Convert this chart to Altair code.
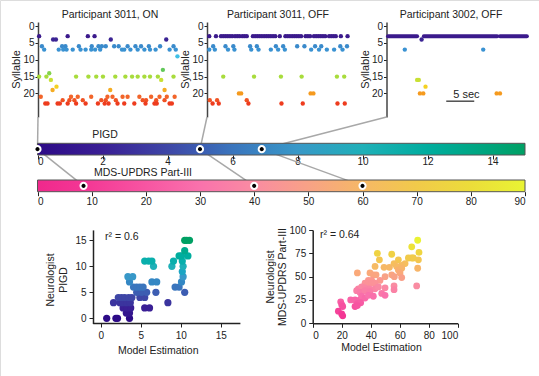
import altair as alt
import pandas as pd

FONT = "Liberation Sans"
W, H = 539, 376

# ---------------- data ----------------
PANEL_TITLES = ["Participant 3011, ON", "Participant 3011, OFF", "Participant 3002, OFF"]
PANEL_PIGD = [0, 5, 6.9]
PANEL_MDS = [8.5, 40, 60]

# syllable -> onset times (seconds)
P1 = {
    3: [0.2, 5.3, 8.9, 10.1],
    4: [2.7, 3.2, 13.0, 22.9],
    6: [0.7, 4.3, 4.9, 7.3, 9.6, 10.8, 11.4, 12.1, 13.6, 14.4, 16.0, 17.4, 18.4, 19.8, 21.8, 24.2],
    7: [1.1, 3.7, 4.5, 5.1, 6.2, 7.6, 8.5, 9.5, 10.2, 11.1, 15.0, 15.4, 16.5, 17.8, 19.0, 20.0, 21.0, 23.5, 24.6],
    9: [24.9],
    13: [22.3],
    14: [2.0],
    15: [0.2, 1.5, 6.8, 9.0, 10.4, 11.6, 13.8, 15.6, 16.8, 17.8, 19.0, 20.0, 21.4, 24.2],
    16: [2.3, 22.0],
    18: [3.3],
    19: [2.6, 12.9, 22.6],
    21: [0.5, 5.9, 7.1, 9.5, 12.4, 13.3, 15.1, 16.0, 18.1, 20.2, 21.7, 23.0, 24.4],
    22: [4.4, 5.6, 6.5, 8.0, 11.3, 12.1, 13.9, 18.7, 19.3, 21.1, 22.6],
    23: [1.3, 1.7, 3.5, 3.9, 5.3, 6.8, 8.5, 10.7, 11.9, 12.6, 14.2, 15.4, 17.2, 19.2, 20.8, 21.2, 23.5, 23.9],
}
P2 = {
    3: [0.4, 1.6, 2.5, 2.9, 3.3, 3.7, 4.1, 4.5, 5.0, 5.4, 5.8, 6.3, 6.7, 7.1, 8.2, 8.6, 9.0, 9.4,
        9.8, 10.2, 10.6, 11.0, 11.4, 11.8, 12.2, 13.0, 14.0, 14.4, 14.8, 15.2, 15.6, 16.0, 16.4,
        16.8, 17.6, 18.0, 18.4, 19.1, 19.5, 19.9, 20.3, 20.7, 21.1, 21.8, 22.2, 22.6, 23.0, 23.9, 25.1],
    6: [1.1, 3.3, 4.7, 7.7, 8.9, 12.3, 13.6, 16.1, 17.4, 19.3, 20.4, 23.8, 25.0],
    7: [0.4, 1.4, 3.75, 4.9, 7.9, 9.2, 11.4, 12.7, 13.9, 18.6, 20.0, 21.4, 22.7, 24.2],
    15: [2.9, 8.4, 13.2, 16.9, 23.2, 24.5],
    20: [5.7, 6.1, 18.5, 19.0],
    22: [0.5, 1.8, 7.1],
    23: [1.0, 2.1, 7.4, 13.3, 17.1, 23.3, 24.6],
}
P3 = {
    4: [6.0],
    7: [3.0, 17.0],
    16: [5.2, 5.5],
    18: [6.7],
    20: [5.7, 6.3, 19.4, 20.0],
}
P3_RUN_SYL = 3
P3_RUN_START = [0.0, 6.4, 20.0]
P3_RUN_END = [5.2, 19.5, 24.8]
SCALEBAR_START, SCALEBAR_SEC = 10.4, 5

SYL_DOMAIN = [3, 4, 6, 7, 9, 13, 15, 16, 18, 19, 20, 21, 23]
SYL_COLORS = ["#3b1a8c", "#3b2494", "#3a8acb", "#3a92d2", "#3fc0e6", "#62c85a", "#a8dc3c",
              "#c8e034", "#f4d122", "#f5ac22", "#f59a1e", "#f2652a", "#ee3c1e"]

PIGD_STOPS = [0, 2, 4, 5, 6, 8, 10, 12, 14, 15]
PIGD_COLORS = ["#2d0b87", "#3a1f95", "#3e46a6", "#3c5db2", "#3a75bd", "#3898c8",
               "#1fb0b8", "#00ad9e", "#00a47a", "#00a064"]
MDS_STOPS = [0, 10, 20, 30, 40, 50, 60, 70, 80, 90]
MDS_COLORS = ["#f0288c", "#f43a96", "#f755a2", "#f972ac", "#f98ca2", "#f8a286",
              "#f6b866", "#f1ca4a", "#ecdd3a", "#e9f433"]
PIGD_TICKS = list(range(0, 15, 2))
MDS_TICKS = list(range(0, 91, 10))

MODEL_PIGD = [0.75, 1.9, 2.1, 3.6, 3.6, 3.2, 2.8, 3.3, 3.75, 5.5, 6.1, 1.6, 2.4, 2.8, 3.25, 3.7, 8.4,
              2.2, 2.6, 3.0, 3.5, 3.9, 4.9, 5.5, 4.5, 5.1, 5.75, 6.9, 10.5, 4.1, 4.5, 4.9, 5.3, 9.3,
              9.8, 3.6, 6.4, 7.0, 10.1, 3.4, 4.0, 10.3, 10.2, 6.6, 8.9, 10.3, 5.5, 6.0, 6.4, 9.1,
              10.2, 9.8, 10.1, 10.9, 10.5, 10.5, 10.75, 11.1]
NEURO_PIGD = [0, 0, 0, 0, 1, 1, 2, 2, 2, 2, 2, 3, 3, 3, 3, 3, 3,
              4, 4, 4, 4, 4, 4, 4, 5, 5, 5, 5, 5, 6, 6, 6, 6, 6,
              6, 7, 7, 7, 7, 8, 8, 8, 9, 10, 10, 10, 11, 11, 11, 11,
              11, 12, 12, 12, 13, 15, 15, 15]

MODEL_MDS = [72.4, 68.3, 73.3, 44.6, 54.5, 66, 68.3, 69.4, 72.9, 46, 59.1, 63.7, 61.4, 56.1, 43,
             49.2, 52.9, 72.4, 57.9, 59.1, 61.4, 60.2, 30.8, 39.5, 41.8, 43.7, 49.9, 54.5, 56.3,
             61.4, 38.4, 40.7, 46.4, 36.1, 38.4, 40.7, 43, 56.1, 56.1, 71.7, 31.5, 33.8, 36.1,
             39.1, 43, 45.3, 49.9, 30.3, 32.6, 36.1, 39.5, 47.6, 49.9, 26.2, 29.2, 32.6, 33.8,
             36.1, 38.4, 41.8, 30.8, 33.1, 29.2, 30.8, 19.3, 20, 20.7, 17.7, 20, 20.7]
NEURO_MDS = [89, 82, 76, 75, 74, 70, 70, 70, 68, 68, 68, 64, 62, 64, 61,
             60, 60, 59, 61, 57, 59, 54, 54, 54, 52, 52, 50, 52, 50,
             49, 46, 46, 46, 43, 43, 43, 43, 40, 36, 40, 37, 39, 38,
             37, 37, 39, 38, 35, 33, 35, 34, 32, 30, 25, 25, 25, 29,
             27, 30, 29, 21, 22, 18, 19, 23, 20, 18, 13, 10, 8]
R2_LABELS = ["r² = 0.6", "r² = 0.64"]
Y_TITLES = [["Neurologist", "PIGD"], ["Neurologist", "MDS-UPDRS Part-III"]]

# ---------------- layout (pixels) ----------------
RAST_AXIS_X = [38, 207, 386.5]
RAST_T0_X = [38, 207, 388]
SEC_PX = 5.6
RAST_Y_DOMAIN = [-1.2, 27]
RAST_Y_RANGE = [22, 117]
RAST_TITLE_X = [110, 278, 451]
BAR_X = [37.5, 525]
PIGD_BAR_Y = [155, 143.3]
MDS_BAR_Y = [191.7, 180]

INK = "#222222"


def ax(**kw):
    base = dict(grid=False, domainColor=INK, domainWidth=1.5, tickColor=INK, tickWidth=1,
                labelColor=INK, labelFont=FONT, titleFont=FONT, titleFontWeight="normal",
                titleColor=INK, labelFontSize=10, titleFontSize=10.5)
    base.update(kw)
    return alt.Axis(**base)


def lin(domain, rng):
    return alt.Scale(domain=domain, range=rng, nice=False, zero=False)


def text_layer(label, x, y, size=10.5, align="center", angle=0):
    kw = dict(font=FONT, fontSize=size, color=INK, align=align, baseline="middle")
    if angle:
        kw["angle"] = angle
    return alt.Chart(pd.DataFrame({"label": [label]})).mark_text(**kw).encode(
        text="label:N", x=alt.value(x), y=alt.value(y))


layers = []
syl_scale = alt.Scale(domain=SYL_DOMAIN, range=SYL_COLORS, type="linear")

# ---- raster panels ----
for i, data in enumerate([P1, P2, P3]):
    df = pd.DataFrame([{"t": t, "syl": s} for s, ts in data.items() for t in ts])
    xsc = lin([0, 25], [RAST_T0_X[i], RAST_T0_X[i] + 25 * SEC_PX])
    ysc = lin(RAST_Y_DOMAIN, RAST_Y_RANGE)
    if i == 2:
        runs = pd.DataFrame({"a": P3_RUN_START, "b": P3_RUN_END, "syl": [P3_RUN_SYL] * 3})
        layers.append(alt.Chart(runs).mark_rule(strokeWidth=4, strokeCap="round").encode(
            x=alt.X("a:Q", scale=xsc, axis=None), x2="b:Q",
            y=alt.Y("syl:Q", scale=ysc, axis=None),
            color=alt.Color("syl:Q", scale=syl_scale, legend=None)))
        sb = pd.DataFrame({"a": [SCALEBAR_START], "b": [SCALEBAR_START + SCALEBAR_SEC], "y": [22.3]})
        layers.append(alt.Chart(sb).mark_rule(strokeWidth=1.2, color=INK).encode(
            x=alt.X("a:Q", scale=xsc, axis=None), x2="b:Q",
            y=alt.Y("y:Q", scale=ysc, axis=None)))
        sbt = pd.DataFrame({"t": [SCALEBAR_START + 3.6], "y": [20.4], "label": ["5 sec"]})
        layers.append(alt.Chart(sbt).mark_text(font=FONT, fontSize=11, color=INK, baseline="middle").encode(
            x=alt.X("t:Q", scale=xsc, axis=None),
            y=alt.Y("y:Q", scale=ysc, axis=None), text="label:N"))
    layers.append(alt.Chart(df).mark_circle(size=19, opacity=1).encode(
        x=alt.X("t:Q", scale=xsc, axis=None),
        y=alt.Y("syl:Q", scale=ysc, axis=ax(
            orient="left", offset=-RAST_AXIS_X[i], values=[0, 5, 10, 15, 20], tickSize=3,
            labelPadding=1, labelFontSize=10, title=None, domainColor="#444")),
        color=alt.Color("syl:Q", scale=syl_scale, legend=None)))
    layers.append(text_layer(PANEL_TITLES[i], RAST_TITLE_X[i], 15, size=10.5))
    layers.append(text_layer("Syllable", RAST_AXIS_X[i] - 21, 69.5, size=11, angle=270))

# ---- connectors ----
bw = BAR_X[1] - BAR_X[0]
top_conn = pd.DataFrame({
    "x0": [(x - BAR_X[0]) / bw for x in RAST_AXIS_X],
    "x1": [v / 15 for v in PANEL_PIGD],
    "y0": [0, 0, 0], "y1": [1, 1, 1]})
bot_conn = pd.DataFrame({
    "x0": [v / 15 for v in PANEL_PIGD],
    "x1": [v / 90 for v in PANEL_MDS],
    "y0": [0, 0, 0], "y1": [1, 1, 1]})
for dfc, yr in [(top_conn, [117, (PIGD_BAR_Y[0] + PIGD_BAR_Y[1]) / 2]),
                (bot_conn, [(PIGD_BAR_Y[0] + PIGD_BAR_Y[1]) / 2, (MDS_BAR_Y[0] + MDS_BAR_Y[1]) / 2])]:
    layers.append(alt.Chart(dfc).mark_rule(color="#a8a8a8", strokeWidth=1.5).encode(
        x=alt.X("x0:Q", scale=lin([0, 1], BAR_X), axis=None), x2="x1:Q",
        y=alt.Y("y0:Q", scale=lin([0, 1], yr), axis=None), y2="y1:Q"))


# ---- colorbars ----
def colorbar(stops, colors, vmax, ybar, ticks, marks, tick_size, label_pad):
    grad = alt.LinearGradient(
        gradient="linear",
        stops=[alt.GradientStop(color=c, offset=s / vmax) for s, c in zip(stops, colors)],
        x1=0, x2=1, y1=0, y2=0)
    xsc = lin([0, vmax], BAR_X)
    ysc = lin([0, 1], ybar)
    bar = alt.Chart(pd.DataFrame({"a": [0], "b": [vmax], "lo": [0], "hi": [1]})).mark_rect(
        fill=grad, stroke="#555555", strokeWidth=1).encode(
        x=alt.X("a:Q", scale=xsc, axis=ax(orient="bottom", offset=ybar[0] - H, values=ticks,
                                          domain=False, tickSize=tick_size, labelPadding=label_pad,
                                          labelFontSize=10, title=None)),
        x2="b:Q",
        y=alt.Y("lo:Q", scale=ysc, axis=None), y2="hi:Q")
    mk = alt.Chart(pd.DataFrame({"v": marks, "y": [0.5] * len(marks)})).mark_circle(
        size=38, opacity=1, color="black", stroke="white", strokeWidth=2).encode(
        x=alt.X("v:Q", scale=xsc, axis=None),
        y=alt.Y("y:Q", scale=ysc, axis=None))
    return [bar, mk]


layers += colorbar(PIGD_STOPS, PIGD_COLORS, 15, PIGD_BAR_Y, PIGD_TICKS, PANEL_PIGD, 4, -3)
layers += colorbar(MDS_STOPS, MDS_COLORS, 90, MDS_BAR_Y, MDS_TICKS, PANEL_MDS, 4, 1)
layers.append(text_layer("PIGD", 105, 135, size=10.5))
layers.append(text_layer("MDS-UPDRS Part-III", 143, 173, size=10.5))

# ---- scatter plots ----
pigd_cs = alt.Scale(domain=PIGD_STOPS, range=PIGD_COLORS, type="linear")
mds_cs = alt.Scale(domain=MDS_STOPS, range=MDS_COLORS, type="linear")

s1 = pd.DataFrame({"model": MODEL_PIGD, "neuro": NEURO_PIGD})
layers.append(alt.Chart(s1).mark_circle(size=52, opacity=1).encode(
    x=alt.X("model:Q", scale=lin([-1, 17.4], [92.7, 239.9]),
            axis=ax(orient="bottom", offset=323 - H, values=[0, 5, 10, 15], tickSize=4,
                    labelPadding=3, title="Model Estimation", titleX=157.7, titleY=27,
                    titleBaseline="middle")),
    y=alt.Y("neuro:Q", scale=lin([-1, 17], [323.5, 229.9]),
            axis=ax(orient="left", offset=-93, values=[0, 5, 10, 15], tickSize=4, labelPadding=3,
                    title=None)),
    color=alt.Color("neuro:Q", scale=pigd_cs, legend=None)))
layers.append(text_layer(R2_LABELS[0], 105, 237, size=10.5, align="left"))
layers.append(text_layer(Y_TITLES[0][0], 51, 280, size=10.5, angle=270))
layers.append(text_layer(Y_TITLES[0][1], 63.5, 280, size=10.5, angle=270))

s2 = pd.DataFrame({"model": MODEL_MDS, "neuro": NEURO_MDS})
layers.append(alt.Chart(s2).mark_circle(size=46, opacity=1).encode(
    x=alt.X("model:Q", scale=lin([0, 100], [312.7, 457.7]),
            axis=ax(orient="bottom", offset=323.3 - H, values=[0, 20, 40, 60, 80, 100], tickSize=4,
                    labelPadding=3, title="Model Estimation", titleX=381, titleY=24.5,
                    titleBaseline="middle")),
    y=alt.Y("neuro:Q", scale=lin([0, 100], [323.3, 230]),
            axis=ax(orient="left", offset=-312.7, values=[0, 25, 50, 75, 100], tickSize=4,
                    labelPadding=3, title=None)),
    color=alt.Color("neuro:Q", scale=mds_cs, legend=None)))
layers.append(text_layer(R2_LABELS[1], 320, 235, size=10.5, align="left"))
layers.append(text_layer(Y_TITLES[1][0], 271, 277, size=10.5, angle=270))
layers.append(text_layer(Y_TITLES[1][1], 283, 277, size=10.5, angle=270))

chart = alt.layer(*layers).properties(
    width=W, height=H, padding=0, autosize=alt.AutoSizeParams(type="none")
).resolve_scale(x="independent", y="independent", color="independent").resolve_axis(
    x="independent", y="independent"
).configure_view(stroke=None).configure(font=FONT, background="white")

chart.save("out.html", embed_options={"renderer": "svg", "actions": False})
